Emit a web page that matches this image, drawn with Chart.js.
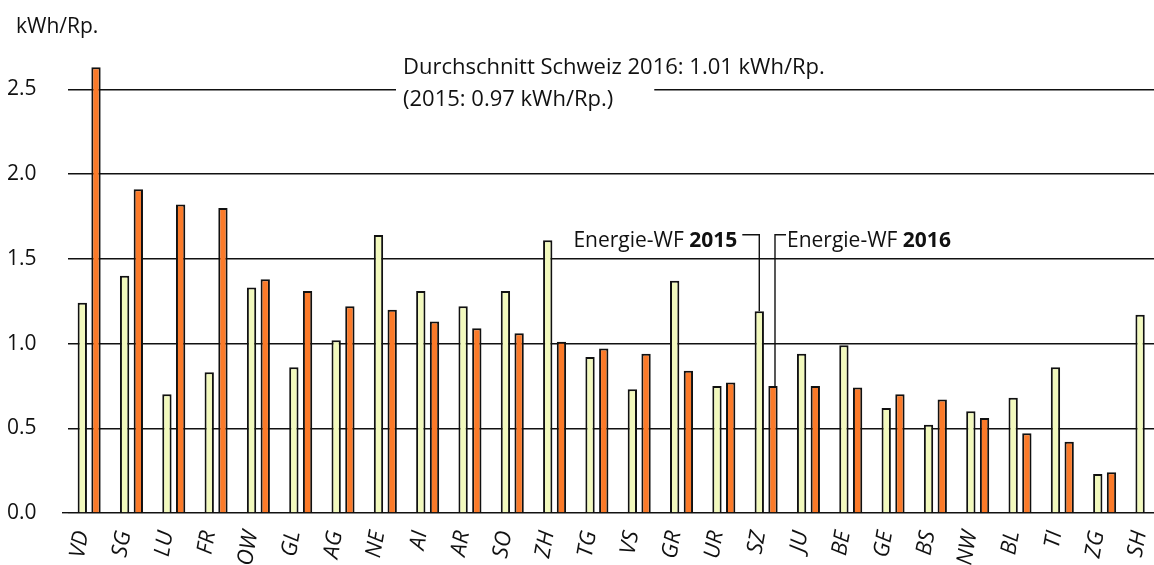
<!DOCTYPE html>
<html>
<head>
<meta charset="utf-8">
<script src="https://cdn.jsdelivr.net/npm/chart.js"></script>
<style>
  html, body { margin: 0; padding: 0; background: #fff; overflow: hidden; }
  #wrap { position: relative; width: 1181px; height: 565px; }
  #c { display: block; }
</style>
</head>
<body>
<div id="wrap"><canvas id="c" width="1181" height="565"></canvas></div>
<script>
// Energie-WF per canton, kWh/Rp.
var cantons = ['VD','SG','LU','FR','OW','GL','AG','NE','AI','AR','SO','ZH','TG','VS','GR','UR','SZ','JU','BE','GE','BS','NW','BL','TI','ZG','SH'];
var wf2015 = [1.24,1.40,0.70,0.83,1.33,0.86,1.02,1.64,1.31,1.22,1.31,1.61,0.92,0.73,1.37,0.75,1.19,0.94,0.99,0.62,0.52,0.60,0.68,0.86,0.23,1.17];
var wf2016 = [2.63,1.91,1.82,1.80,1.38,1.31,1.22,1.20,1.13,1.09,1.06,1.01,0.97,0.94,0.84,0.77,0.75,0.75,0.74,0.70,0.67,0.56,0.47,0.42,0.24,null];
var yTicks = [0, 0.5, 1.0, 1.5, 2.0, 2.5];
var unitLabel = 'kWh/Rp.';
var avgLine1 = 'Durchschnitt Schweiz 2016: 1.01 kWh/Rp.';
var avgLine2 = '(2015: 0.97 kWh/Rp.)';
var pointerIndex = cantons.indexOf('SZ');

var FONT = "'Open Sans', sans-serif";
var INK = '#111';

var notes = {
  id: 'notes',
  afterDraw: function(chart){
    var ctx = chart.ctx, y = chart.scales.y, area = chart.chartArea;
    ctx.save();
    ctx.fillStyle = INK;
    ctx.textBaseline = 'alphabetic';

    // unit label
    ctx.font = '21px ' + FONT;
    ctx.textAlign = 'left';
    ctx.fillText(unitLabel, 16, y.getPixelForValue(2.5) - 56);

    // average note, breaking the 2.5 grid line
    var y25 = y.getPixelForValue(2.5);
    var tx = area.left + 335;
    ctx.font = '22px ' + FONT;
    ctx.fillStyle = '#fff';
    ctx.fillRect(tx - 7, y25 - 3, ctx.measureText(avgLine2).width + 48, 6);
    ctx.fillStyle = INK;
    ctx.fillText(avgLine1, tx, y25 - 15);
    ctx.fillText(avgLine2, tx, y25 + 17);

    // Energie-WF pointers
    var b15 = chart.getDatasetMeta(0).data[pointerIndex];
    var b16 = chart.getDatasetMeta(1).data[pointerIndex];
    var hy = y.getPixelForValue(1.5) - 24;
    ctx.strokeStyle = INK;
    ctx.lineWidth = 1.4;
    ctx.beginPath();
    ctx.moveTo(b15.x - 17, hy); ctx.lineTo(b15.x, hy); ctx.lineTo(b15.x, b15.y);
    var vx = b16.x + 2;
    ctx.moveTo(vx, b16.y); ctx.lineTo(vx, hy); ctx.lineTo(vx + 11, hy);
    ctx.stroke();

    function mixed(x, base, year, alignRight){
      ctx.font = '21px ' + FONT;
      var w1 = ctx.measureText('Energie-WF ').width;
      ctx.font = 'bold 21px ' + FONT;
      var w2 = ctx.measureText(year).width;
      var sx = alignRight ? x - w1 - w2 : x;
      ctx.textAlign = 'left';
      ctx.font = '21px ' + FONT;
      ctx.fillText('Energie-WF ', sx, base);
      ctx.font = 'bold 21px ' + FONT;
      ctx.fillText(year, sx + w1, base);
    }
    mixed(b15.x - 22, hy + 12.5, '2015', true);
    mixed(vx + 12, hy + 12.5, '2016', false);
    ctx.restore();
  }
};

new Chart(document.getElementById('c').getContext('2d'), {
  type: 'bar',
  data: {
    labels: cantons,
    datasets: [
      { label: 'Energie-WF 2015', data: wf2015, backgroundColor: '#f2f9bd', borderColor: INK, borderWidth: 2,
        categoryPercentage: 0.648, barPercentage: 0.68 },
      { label: 'Energie-WF 2016', data: wf2016, backgroundColor: '#fb7a29', borderColor: INK, borderWidth: 2,
        categoryPercentage: 0.648, barPercentage: 0.68 }
    ]
  },
  options: {
    responsive: false,
    animation: false,
    events: [],
    layout: { autoPadding: false, padding: { left: 7, right: 3, top: 30, bottom: 0 } },
    plugins: { legend: { display: false }, tooltip: { enabled: false }, title: { display: false } },
    scales: {
      x: {
        grid: { display: false },
        border: { display: false },
        ticks: { color: INK, minRotation: 80, maxRotation: 80, padding: 8, labelOffset: -7, autoSkip: false,
                 font: { family: FONT, size: 22, style: 'italic' } },
        afterFit: function(s){ s.height = 52; }
      },
      y: {
        min: 0, max: 2.85,
        border: { display: false },
        grid: { color: INK, lineWidth: 1.4, drawTicks: true, tickLength: 6,
                tickColor: function(c){ return c.tick && c.tick.value === 0 ? INK : 'rgba(0,0,0,0)'; } },
        ticks: { stepSize: 0.5, color: INK, crossAlign: 'far', padding: 0,
                 font: { family: FONT, size: 21 },
                 callback: function(v){ return Number(v).toFixed(1); } },
        afterBuildTicks: function(s){ s.ticks = yTicks.map(function(v){ return { value: v }; }); },
        afterFit: function(s){ s.width = 61; }
      }
    }
  },
  plugins: [notes]
});
</script>
</body>
</html>
